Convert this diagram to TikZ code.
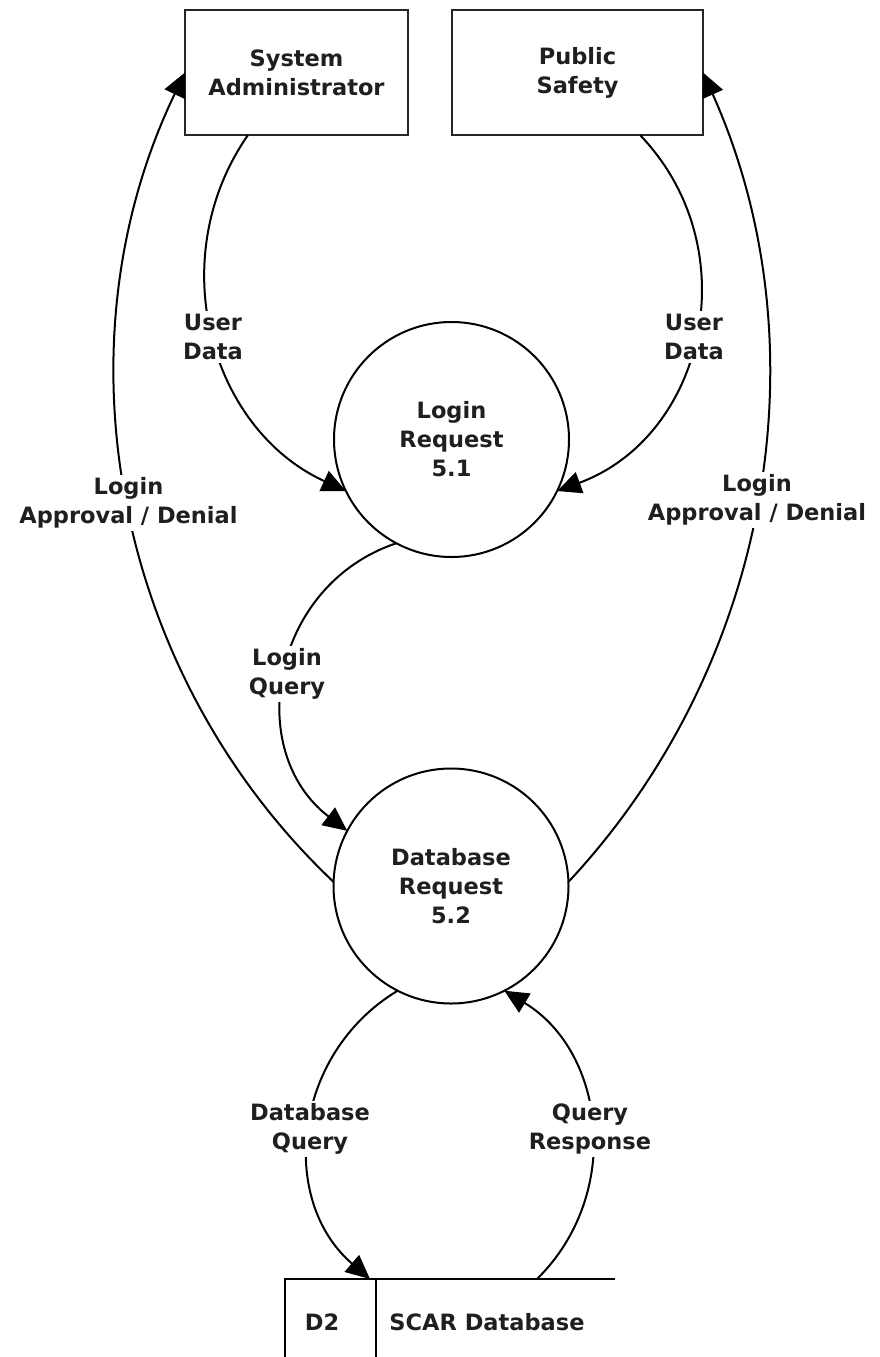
\documentclass[tikz,border=0pt]{standalone}
\usepackage{fontspec}
\setmainfont{DejaVu Sans}
\usetikzlibrary{arrows.meta,calc}
\begin{document}
\begin{tikzpicture}[x=1pt,y=-1pt,
  every node/.style={font=\bfseries\fontsize{22.5}{29}\selectfont, text=black!88, align=center},
  entity/.style={draw=black!85, line width=2.5pt, minimum width=#1, minimum height=125pt, inner sep=0pt, outer sep=0pt},
  process/.style={draw=black, line width=2pt, circle, minimum size=235pt, inner sep=0pt, outer sep=0pt},
  flow/.style={draw=black, line width=2pt, -{Triangle[length=24pt,width=22pt]}},
  storeline/.style={draw=black, line width=2pt},
  flowlabel/.style={fill=white, inner sep=3pt},
]
\useasboundingbox (0,0) rectangle (879,1357);

% external entities
\node[entity=223pt] (sa) at (296.5,72.5) {System\\Administrator};
\node[entity=251pt] (ps) at (577.5,72.5) {Public\\Safety};

% processes
\node[process] (lr) at (451.5,439.5) {Login\\Request\\5.1};
\node[process] (db) at (451,886) {Database\\Request\\5.2};

% data store D2
\coordinate (st) at (285,1279);
\coordinate (stend) at (615,1279);
\coordinate (stbot) at (285,1357);
\coordinate (divtop) at (376,1279);
\coordinate (divbot) at (376,1357);
\draw[storeline] (stbot) -- (st) -- (stend);
\draw[storeline] (divtop) -- (divbot);
\node[anchor=base] (d2) at (322,1330) {D2};
\node[anchor=base] (scar) at (487,1330) {SCAR Database};

% data flows
\draw[flow] ($(sa.south west)+(63,0)$) .. controls (162.3,258.3) and (209.9,428.7) .. (lr.206);
\draw[flow] ($(ps.south east)+(-63,0)$) .. controls (749,248.7) and (705.1,436.4) .. (lr.334);
\draw[flow] (lr.242) .. controls (271.1,585.1) and (242.9,750.8) .. (db.152);
\draw[flow] (db.178) .. controls (113.6,673.6) and (54,345) .. (sa.west);
\draw[flow] (db.2) .. controls (771.8,664) and (824.6,344.6) .. (ps.east);
\draw[flow] (db.243) .. controls (292.1,1054.3) and (278.3,1200.3) .. ($(st)+(85,0)$);
\draw[flow] ($(st)+(252,0)$) .. controls (622.8,1194.7) and (606,1052.1) .. (db.297);

% flow labels
\node[flowlabel] (l1) at (213,337) {User\\Data};
\node[flowlabel] (l2) at (694,337) {User\\Data};
\node[flowlabel] (l3) at (128.5,503) {Login\\Approval / Denial};
\node[flowlabel] (l4) at (757,500) {Login\\Approval / Denial};
\node[flowlabel] (l5) at (287,674) {Login\\Query};
\node[flowlabel] (l6) at (310,1129) {Database\\Query};
\node[flowlabel] (l7) at (590,1129) {Query\\Response};
\end{tikzpicture}
\end{document}
